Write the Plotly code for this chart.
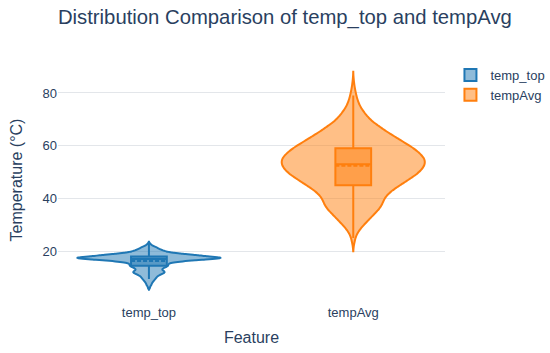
import numpy as np
import plotly.graph_objects as go

# Frequency tables (value -> count)
temp_top_values = [6.0, 6.5, 7.0, 7.5, 8.0, 8.5, 9.0, 9.5, 10.0, 10.5, 11.0, 11.5,
                   12.0, 12.5, 13.0, 13.5, 14.0, 14.5, 15.0, 15.5, 16.0, 16.5, 17.0,
                   17.5, 18.0, 18.5, 19.0, 19.5, 20.0, 20.5, 21.0, 21.5, 22.0, 22.5, 23.0]
temp_top_counts = [2, 2, 4, 5, 6, 8, 10, 12, 14, 16, 20, 26,
                   30, 28, 24, 26, 32, 36, 36, 38, 54, 82, 118,
                   142, 114, 88, 64, 42, 30, 24, 18, 14, 8, 4, 2]

tempAvg_values = [23, 25, 27, 29, 31, 33, 35, 37, 39, 41, 43, 45, 47, 49, 51, 53,
                  55, 57, 59, 61, 63, 65, 67, 69, 71, 73, 75, 77, 79, 81, 83, 85]
tempAvg_counts = [2, 4, 8, 16, 26, 36, 46, 56, 59, 64, 76, 92, 108, 124, 136, 142,
                  142, 132, 120, 102, 86, 68, 54, 38, 28, 20, 13, 9, 6, 4, 2, 1]

feature_names = ["temp_top", "tempAvg"]
colors = ["#1f77b4", "#ff7f0e"]
y_range = [1.5, 92.5]

temp_top = np.repeat(temp_top_values, temp_top_counts)
tempAvg = np.repeat(tempAvg_values, tempAvg_counts)

font_family = "Arial, Liberation Sans, sans-serif"

fig = go.Figure()
for name, data, color, bw in zip(feature_names, [temp_top, tempAvg], colors, [0.3, 1.5]):
    fig.add_trace(go.Violin(
        y=data,
        name=name,
        line=dict(color=color, width=2),
        box_visible=True,
        meanline_visible=True,
        points=False,
        bandwidth=bw,
        width=0.7,
        hoverinfo="skip",
    ))

fig.update_layout(
    template="plotly_white",
    width=550,
    height=353,
    margin=dict(l=58, r=105, t=60, b=53),
    font=dict(family=font_family, color="#2a3f5f", size=13),
    title=dict(text="Distribution Comparison of temp_top and tempAvg",
               x=0.518, xanchor="center", y=0.973, yanchor="top",
               font=dict(size=20.3)),
    xaxis=dict(title=dict(text="Feature", font=dict(size=16), standoff=12),
               range=[-0.445, 1.449], automargin=False, ticklabelstandoff=3),
    yaxis=dict(title=dict(text="Temperature (°C)", font=dict(size=16)),
               range=y_range, gridcolor="#e3e6ea", automargin=False),
    legend=dict(font=dict(size=13), xref="container", yref="container",
                x=0.819, xanchor="left", y=0.830, yanchor="top"),
    violinmode="overlay",
)

fig.write_html("out.html", config={"displayModeBar": False},
               post_script="document.body.style.margin='0';")
